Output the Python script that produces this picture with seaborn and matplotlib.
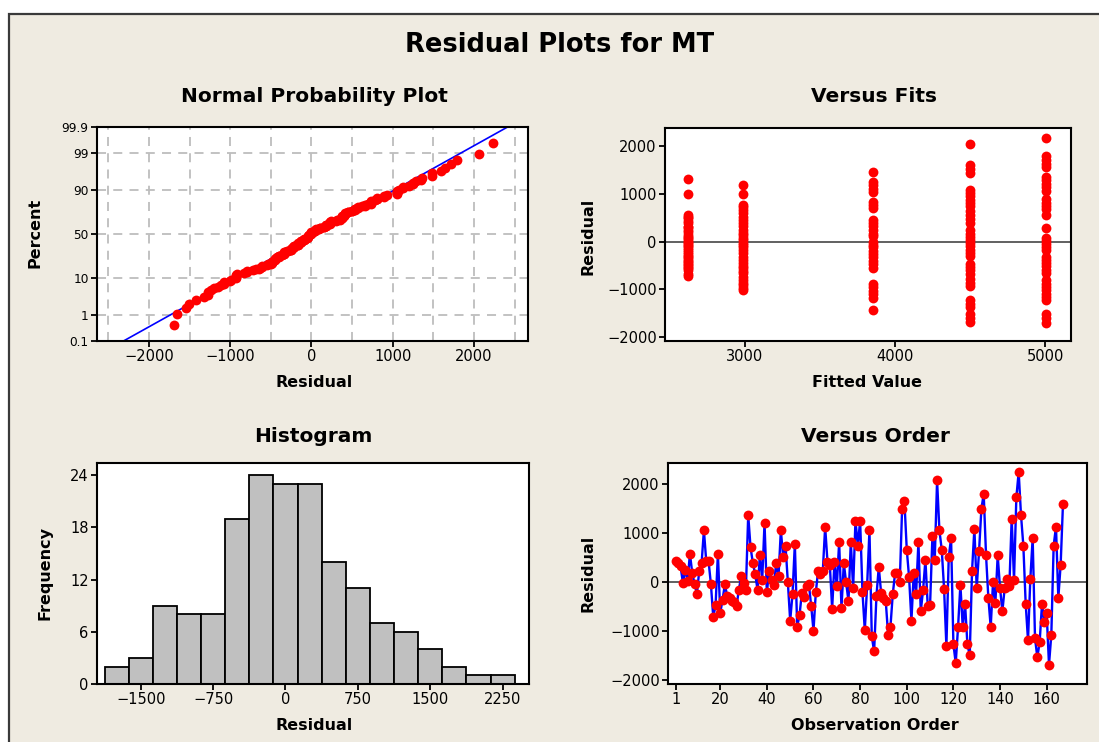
import numpy as np
import pandas as pd
import matplotlib
matplotlib.use("Agg")
import matplotlib.pyplot as plt
import seaborn as sns
from matplotlib.patches import Rectangle
from statistics import NormalDist

# ---------------- data ----------------
residuals = [
    415, 380, 310, -27, 245, 20, 570, 177, -48, -245, 225, 374, 1048, 415, 415, -48,
    -721, -483, 571, -640, -367, -48, -300, -333, -401, -420, -490, -163, 109, -27,
    -163, 1360, 700, 380, 156, -163, 537, 40, 1197, -218,
    224, 40, -61, 374, 109, 1048, 497, 735, -7, -796, -252, 776, -918, -687, -231,
    -320, -95, -48, -490, -1000, -211, 224, 156, 224, 1122, 401, 347, -551, 401, -95,
    809, -537, 374, -7, -401, 809, -129, 1245, 735, 1245,
    -211, -993, -75, 1048, -1116, -1422, -286, 299, -231, -333, -401, -1082, -925,
    -252, 177, 177, -7, 1483, 1639, 653, 88, -796, 177, -252, 809, -605, -170, 449,
    -503, -469, 925, 449, 2068, 1048, 653, -143, -1320, 497, 891, -1272, -1660, -925, -61,
    -925, -449, -1272, -1503, 224, 1082, -129, 619, 1483, 1789, 537, -333, -925, -7,
    -435, 537, -129, -605, -129, 61, -95, 1286, 34, 1721, 2238, 1354, 735, -449, -1197,
    61, 891, -1150, -1544, -1231, -449, -830, -639, -1694, -1082, 735, 1122, -333, 347, 1592,
]

hist_centers = [-1750, -1500, -1250, -1000, -750, -500, -250, 0, 250, 500, 750,
                1000, 1250, 1500, 1750, 2000, 2250]
hist_counts = [2, 3, 9, 8, 8, 19, 24, 23, 23, 14, 11, 7, 6, 4, 2, 1, 1]
hist_ticks = [-1500, -750, 0, 750, 1500, 2250]

fit_levels = [2618, 2984, 3856, 4500, 5007]
fit_resid_1 = [1319, 1003, 561, 520, 491, 430, 386, 316, 300, 246, 200, 140, 100, 70,
               30, 0, -30, -70, -100, -140, -180, -211, -250, -295, -330, -365, -400,
               -421, -460, -491, -540, -561, -600, -680, -716]
fit_resid_2 = [1193, 1003, 772, 720, 667, 600, 526, 460, 386, 320, 246, 190, 140, 80,
               35, -20, -70, -120, -175, -240, -316, -380, -456, -510, -561, -620,
               -667, -740, -807, -860, -912, -970, -1018]
fit_resid_3 = [1453, 1250, 1180, 1110, 1040, 840, 770, 700, 450, 390, 330, 250, 170,
               110, 0, -60, -120, -190, -260, -330, -400, -470, -560, -880, -950,
               -1030, -1100, -1190, -1425]
fit_resid_4 = [2056, 1610, 1530, 1440, 1090, 1020, 950, 880, 810, 740, 640, 560, 480,
               400, 240, 170, 100, 40, -30, -100, -170, -240, -310, -460, -530, -600,
               -670, -780, -860, -940, -1230, -1300, -1380, -1510, -1600, -1690]
fit_resid_5 = [2175, 1800, 1720, 1640, 1570, 1360, 1290, 1220, 1140, 1070, 890, 820,
               750, 680, 550, 281, 80, 20, -40, -110, -170, -320, -390, -450, -520,
               -590, -660, -810, -880, -950, -1020, -1090, -1160, -1230, -1520, -1600,
               -1700]

prob_ticks = [0.1, 1, 10, 50, 90, 99, 99.9]
prob_labels = ["0.1", "1", "10", "50", "90", "99", "99.9"]
order_ticks = [1, 20, 40, 60, 80, 100, 120, 140, 160]

# ---------------- style ----------------
sns.set_theme(style="ticks")
plt.rcParams["font.family"] = ["DejaVu Sans"]
plt.rcParams["text.color"] = "black"
plt.rcParams["axes.labelcolor"] = "black"
plt.rcParams["xtick.color"] = "black"
plt.rcParams["ytick.color"] = "black"
plt.rcParams["axes.edgecolor"] = "black"
plt.rcParams["axes.linewidth"] = 1.5

W, H = 1099, 742
BG = "#EFEBE1"
fig = plt.figure(figsize=(W / 100, H / 100), dpi=100)
fig.patch.set_facecolor("white")
fig.patches.append(Rectangle((9 / W, -0.05), 1.2, 1 - 14 / H + 0.05,
                             transform=fig.transFigure, facecolor=BG,
                             edgecolor="#3a3a3a", linewidth=1.6, zorder=-10))


def rect(l, t, r, b):
    return [l / W, 1 - b / H, (r - l) / W, (b - t) / H]


def ftext(x, y, s, **kw):
    fig.text(x / W, 1 - y / H, s, ha="center", va="center", color="black", **kw)


def style_ax(ax, ysize=10.5):
    ax.set_facecolor("white")
    for sp in ax.spines.values():
        sp.set_visible(True)
        sp.set_color("black")
        sp.set_linewidth(1.5)
    ax.tick_params(axis="both", which="major", direction="out", length=4, width=1.3,
                   color="black", labelsize=10.5, pad=2, labelcolor="black")
    ax.tick_params(axis="y", labelsize=ysize)
    ax.set_xlabel("")
    ax.set_ylabel("")


DOT = dict(color="red", s=50, linewidth=0, zorder=3)

# ---------------- Normal probability plot ----------------
ax1 = fig.add_axes(rect(97, 127, 528, 341))
nd = NormalDist()
res = np.array(residuals, dtype=float)
n = len(res)
srt = np.sort(res)
pp = (np.arange(1, n + 1) - 0.3) / (n + 0.4)
zz = np.array([nd.inv_cdf(p) for p in pp])
mu, sd = res.mean(), res.std(ddof=1)
zlo, zhi = nd.inv_cdf(0.001), nd.inv_cdf(0.999)
zline = np.array([zlo - 0.3, zhi + 0.3])
line_df = pd.DataFrame({"x": mu + sd * zline, "z": zline})
sns.lineplot(data=line_df, x="x", y="z", ax=ax1, color="blue", linewidth=1.2,
             sort=False, zorder=2)
sns.scatterplot(x=srt, y=zz, ax=ax1, **DOT)
ax1.set_xlim(-2640, 2665)
ax1.set_ylim(zlo, zhi)
ax1.set_xticks([-2000, -1000, 0, 1000, 2000])
ax1.set_xticks([-2500, -1500, -500, 500, 1500, 2500], minor=True)
ax1.set_yticks([nd.inv_cdf(p / 100) for p in prob_ticks])
ax1.set_yticklabels(prob_labels)
style_ax(ax1, ysize=8.7)
ax1.tick_params(axis="x", which="minor", length=0)
ax1.grid(True, which="both", color="#BDBDBD", linestyle=(0, (5, 4)), linewidth=1.3)
ax1.set_axisbelow(True)

# ---------------- Versus fits ----------------
ax2 = fig.add_axes(rect(665, 128, 1071, 341))
groups = [fit_resid_1, fit_resid_2, fit_resid_3, fit_resid_4, fit_resid_5]
fits_df = pd.DataFrame({
    "fit": np.concatenate([[lv] * len(g) for lv, g in zip(fit_levels, groups)]),
    "res": np.concatenate(groups),
})
ax2.axhline(0, color="#606060", linewidth=1.4, zorder=1)
sns.scatterplot(data=fits_df, x="fit", y="res", ax=ax2, **DOT)
ax2.set_xlim(2467, 5173)
ax2.set_ylim(-2084, 2386)
ax2.set_xticks([3000, 4000, 5000])
ax2.set_yticks([-2000, -1000, 0, 1000, 2000])
style_ax(ax2)

# ---------------- Histogram ----------------
ax3 = fig.add_axes(rect(97, 463, 529, 684))
hist_df = pd.DataFrame({"center": np.array(hist_centers, dtype=float),
                        "count": np.array(hist_counts, dtype=float)})
sns.histplot(data=hist_df, x="center", weights="count", binwidth=250,
             binrange=(-1875, 2375), ax=ax3,
             color="#C0C0C0", edgecolor="black", linewidth=1.3, alpha=1.0)
ax3.set_xlim(-1953, 2523)
ax3.set_ylim(0, 25.4)
ax3.set_xticks(hist_ticks)
ax3.set_yticks([0, 6, 12, 18, 24])
style_ax(ax3)

# ---------------- Versus order ----------------
ax4 = fig.add_axes(rect(668, 463, 1087, 684))
order_df = pd.DataFrame({"obs": np.arange(1, n + 1), "res": res})
ax4.axhline(0, color="#606060", linewidth=1.4, zorder=1)
sns.lineplot(data=order_df, x="obs", y="res", ax=ax4, color="blue", linewidth=1.7,
             zorder=2)
sns.scatterplot(data=order_df, x="obs", y="res", ax=ax4, **DOT)
ax4.set_xlim(-2.4, 177.3)
ax4.set_ylim(-2087, 2421)
ax4.set_xticks(order_ticks)
ax4.set_yticks([-2000, -1000, 0, 1000, 2000])
style_ax(ax4)

# ---------------- texts ----------------
ftext(560, 45, "Residual Plots for MT", fontsize=18.5, fontweight="bold")
ftext(314, 97, "Normal Probability Plot", fontsize=14.5, fontweight="bold")
ftext(874, 97, "Versus Fits", fontsize=14.5, fontweight="bold")
ftext(313, 437, "Histogram", fontsize=14.5, fontweight="bold")
ftext(875, 437, "Versus Order", fontsize=14.5, fontweight="bold")

ftext(314, 383, "Residual", fontsize=11.5, fontweight="bold")
ftext(867, 383, "Fitted Value", fontsize=11.5, fontweight="bold")
ftext(314, 725, "Residual", fontsize=11.5, fontweight="bold")
ftext(875, 725, "Observation Order", fontsize=11.5, fontweight="bold")
ftext(35, 233, "Percent", fontsize=11.5, fontweight="bold", rotation=90)
ftext(588, 236, "Residual", fontsize=11.5, fontweight="bold", rotation=90)
ftext(45, 573, "Frequency", fontsize=11.5, fontweight="bold", rotation=90)
ftext(588, 573, "Residual", fontsize=11.5, fontweight="bold", rotation=90)

fig.savefig("out.png", dpi=100, facecolor=fig.get_facecolor())
